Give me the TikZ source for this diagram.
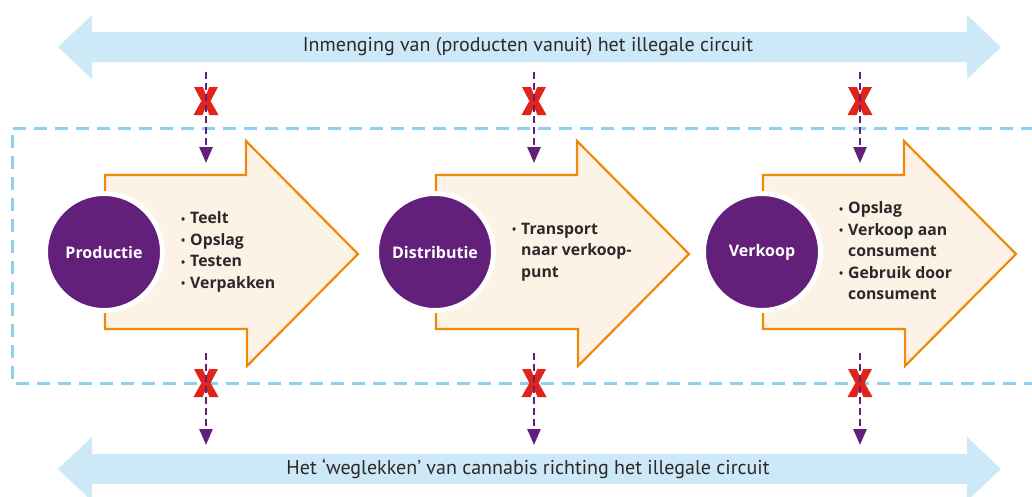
\documentclass[tikz,border=0pt]{standalone}
\usepackage{fontspec}
\setmainfont{PT Sans}
\newfontfamily\boldfont{Open Sans}
\usetikzlibrary{arrows.meta}
\definecolor{lblue}{HTML}{CDE8F6}
\definecolor{boxblue}{HTML}{8FD0EE}
\definecolor{cpurple}{HTML}{63207A}
\definecolor{corange}{HTML}{F0890A}
\definecolor{ccream}{HTML}{FDF2E6}
\definecolor{cred}{HTML}{E2231A}
\definecolor{tgray}{HTML}{2A2A2A}
\newcommand\bul{\makebox[9pt][l]{\raisebox{0.5pt}{\fontsize{11}{11}\selectfont •}}}
\newcommand\ind{\hspace*{9pt}}
\tikzset{
  bluearrow/.style={fill=lblue, draw=none},
  bigtext/.style={text=tgray, font=\fontsize{20}{22}\selectfont, inner sep=0pt},
  dashbox/.style={draw=boxblue, line width=3pt, dash pattern=on 13pt off 8pt},
  procarrow/.style={draw=corange, line width=2.2pt, fill=ccream, line join=miter},
  stage/.style={circle, fill=cpurple, draw=white, line width=5pt, minimum size=117pt, inner sep=0pt,
     text=white, font=\boldfont\bfseries\fontsize{16}{18}\selectfont},
  itemlist/.style={anchor=west, align=left, inner sep=0pt, text=tgray,
     font=\boldfont\bfseries\fontsize{15.8}{21.5}\selectfont},
  blocked/.style={draw=cpurple, line width=2.6pt, dash pattern=on 7pt off 4pt,
     -{Triangle[length=16pt,width=13pt]}},
  cross/.style={fill=cred, draw=none},
}
\begin{document}
\begin{tikzpicture}[x=1pt,y=-1pt]
\useasboundingbox (0,0) rectangle (1032,496);
% blue double arrows
\fill[bluearrow] (58,47) -- (92,15) -- (92,32) -- (967,32) -- (967,15) -- (1001,47)
  -- (967,79) -- (967,62) -- (92,62) -- (92,79) -- cycle;
\fill[bluearrow] (58,469) -- (92,437) -- (92,454) -- (967,454) -- (967,437) -- (1001,469)
  -- (967,501) -- (967,484) -- (92,484) -- (92,501) -- cycle;
\node[bigtext] (intext) at (528,47) {Inmenging van (producten vanuit) het illegale circuit};
\node[bigtext] (outtext) at (528,469) {Het ‘weglekken’ van cannabis richting het illegale circuit};
% dashed box
\draw[dashbox] (1034,128) -- (12,128) -- (12,383) -- (1034,383);
% process arrows
\foreach \L in {105,436,763}{
  \draw[procarrow] (\L,175) -- (\L+141,175) -- (\L+141,141) -- (\L+253,254)
    -- (\L+142,366) -- (\L+142,329) -- (\L,329) -- cycle;
}
% stages
\node[stage] (prod) at (104,252) {Productie};
\node[stage] (dist) at (435,252) {Distributie};
\node[stage] (verk) at (762,252) {Verkoop};
\node[itemlist] (prodlist) at (181,252) {\bul Teelt\\\bul Opslag\\\bul Testen\\\bul Verpakken};
\node[itemlist] (distlist) at (512,252) {\bul Transport\\\ind naar verkoop-\\\ind punt};
\node[itemlist] (verklist) at (839,251) {\bul Opslag\\\bul Verkoop aan\\\ind consument\\\bul Gebruik door\\\ind consument};
% blocked flows
\foreach \n/\x in {a/206,b/534,c/860}{
  \coordinate (ts\n) at (\x,72);
  \coordinate (te\n) at (\x,163);
  \coordinate (bs\n) at (\x,353);
  \coordinate (be\n) at (\x,445);
  \coordinate (tx\n) at (\x,101);
  \coordinate (bx\n) at (\x,383);
  \foreach \c in {tx\n,bx\n}{
    \fill[cross,shift={(\c)}] (-12,-14) -- (-3.2,-14) -- (0,-6) -- (3.2,-14) -- (12,-14)
      -- (4.6,0) -- (12.5,14) -- (3.4,14) -- (0,5.5) -- (-3.4,14) -- (-12.5,14) -- (-4.6,0) -- cycle;
  }
  \draw[blocked] (ts\n) -- (te\n);
  \draw[blocked] (bs\n) -- (be\n);
}
\end{tikzpicture}
\end{document}
